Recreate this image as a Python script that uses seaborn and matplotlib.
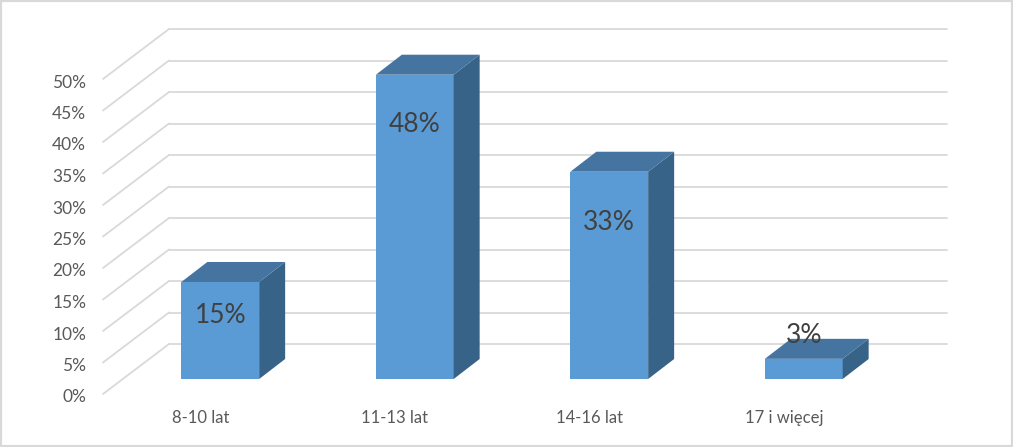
import matplotlib
matplotlib.use("Agg")
import matplotlib.pyplot as plt
from matplotlib.patches import Polygon, Rectangle
from matplotlib.transforms import IdentityTransform, Affine2D
import pandas as pd
import seaborn as sns

categories = ["8-10 lat", "11-13 lat", "14-16 lat", "17 i więcej"]
values = [15.4, 48.3, 32.9, 3.2]
y_ticks = [0, 5, 10, 15, 20, 25, 30, 35, 40, 45, 50]

FRONT = "#5B9BD5"
TOP = "#44749F"
SIDE = "#376389"
GRID = "#D9D9D9"
W, H = 1013, 447
BACK = (46, 35)        # bar plane to back wall, px
FLOOR = (-20, -15)     # bar plane to front edge, px
DEPTH = (26, 20)       # bar depth, px
label_dy = [34, 50, 51, -23]  # data label offset from bar top, px (down)

sns.set_theme(style="white")
plt.rcParams["font.family"] = ["Lato", "DejaVu Sans"]

fig = plt.figure(figsize=(W / 100, H / 100), dpi=100)
fig.add_artist(Rectangle((0, 0), 1, 1, transform=fig.transFigure, fill=False,
                         edgecolor=GRID, linewidth=3))
ax = fig.add_axes([123 / W, (H - 379) / H, 778 / W, 315 / H])
df = pd.DataFrame({"wiek": categories, "udzial": values})
sns.barplot(data=df, x="wiek", y="udzial", color=FRONT, saturation=1, width=0.4,
            ax=ax, zorder=3, linewidth=0, edgecolor="none", errorbar=None)
ax.set_xlim(-0.5, len(categories) - 0.5)
ax.set_ylim(0, 50)
ax.set_xlabel("")
ax.set_ylabel("")
sns.despine(ax=ax, left=True, bottom=True, top=True, right=True)
ax.patch.set_alpha(0)

ax.set_yticks(y_ticks, [f"{t}%" for t in y_ticks])
ax.tick_params(axis="y", length=0, pad=26.5, labelsize=12.5, labelcolor="#595959")
ax.tick_params(axis="x", length=0, pad=22, labelsize=12, labelcolor="#595959")
for lab in ax.get_yticklabels():
    lab.set_transform(lab.get_transform() + Affine2D().translate(0, -17))
for lab in ax.get_xticklabels():
    lab.set_transform(lab.get_transform() + Affine2D().translate(-20, 0))

px = IdentityTransform()
to_px = ax.transData.transform
x0, x1 = ax.get_xlim()
for t in y_ticks:
    (ax_l, ay), (ax_r, _) = to_px([(x0, t), (x1, t)])
    ax.plot([ax_l + BACK[0], ax_r + BACK[0]], [ay + BACK[1]] * 2, color=GRID, lw=1.3,
            transform=px, clip_on=False, zorder=1)
    ax.plot([ax_l + FLOOR[0], ax_l + BACK[0]], [ay + FLOOR[1], ay + BACK[1]], color=GRID,
            lw=1.3, transform=px, clip_on=False, zorder=1)

for bar, v, dy in zip(ax.patches, values, label_dy):
    (l, b), (r, t) = to_px([(bar.get_x(), 0), (bar.get_x() + bar.get_width(), v)])
    dx_d, dy_d = DEPTH
    ax.add_patch(Polygon([(r, b), (r + dx_d, b + dy_d), (r + dx_d, t + dy_d), (r, t)],
                         closed=True, facecolor=SIDE, edgecolor="none",
                         transform=px, clip_on=False, zorder=3))
    ax.add_patch(Polygon([(l, t), (r, t), (r + dx_d, t + dy_d), (l + dx_d, t + dy_d)],
                         closed=True, facecolor=TOP, edgecolor="none",
                         transform=px, clip_on=False, zorder=3))
    ax.text((l + r) / 2, t - dy, f"{round(v)}%", transform=px, ha="center", va="center",
            fontsize=19, color="#404040", clip_on=False, zorder=5)

fig.savefig("out.png", dpi=100)
